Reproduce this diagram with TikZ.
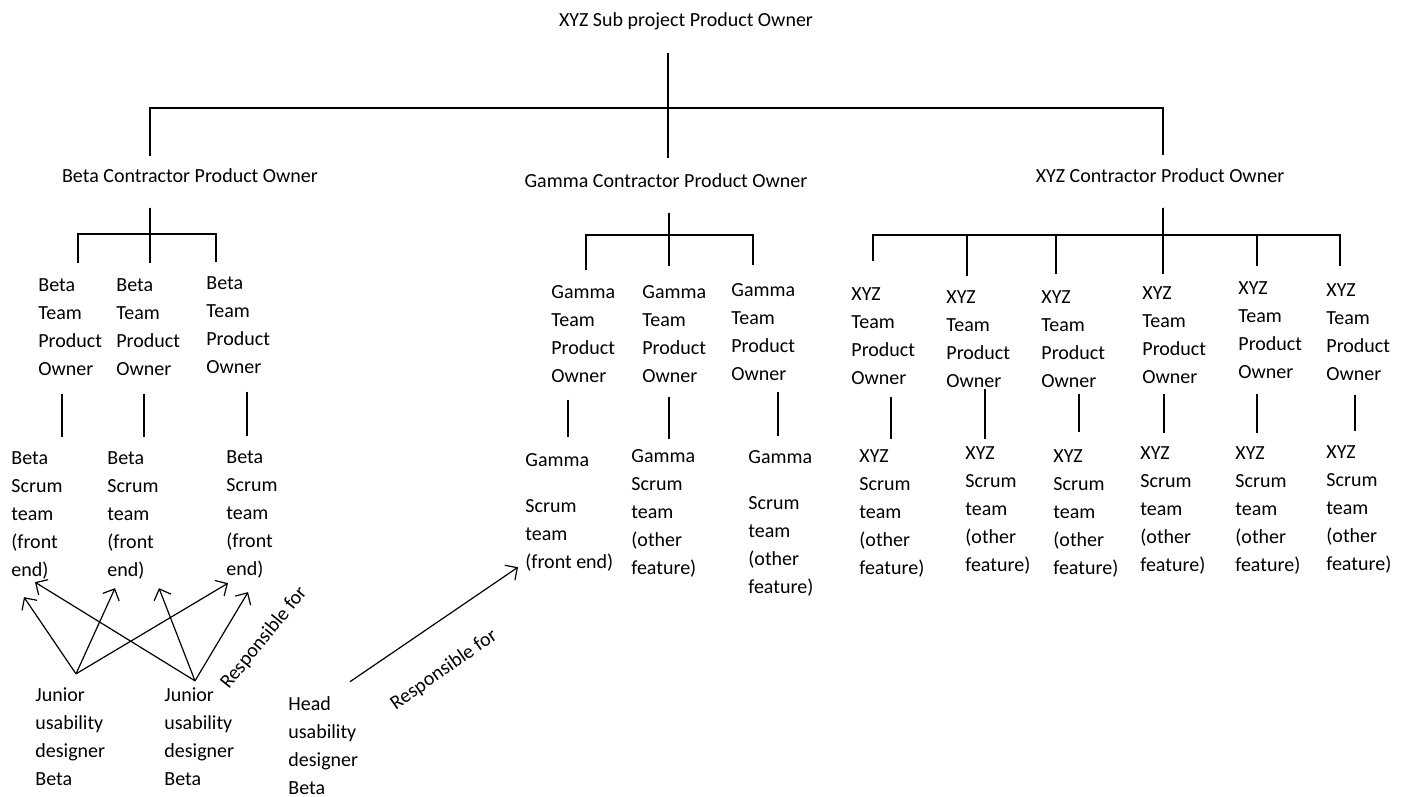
\documentclass[tikz,border=0pt]{standalone}
\usepackage{fontspec}
\setmainfont{Carlito}
\usetikzlibrary{arrows.meta,positioning}

\begin{document}
\begin{tikzpicture}[
  x=0.5pt, y=-0.5pt,
  every node/.style={font=\fontsize{10}{14}\selectfont, inner sep=0pt},
  role/.style={anchor=base},
  stack/.style={anchor=base west, align=left},
  link/.style={line width=0.6pt},
  resp/.style={link, -{Straight Barb[length=4.5pt,width=9pt]}}
]
\useasboundingbox (0,0) rectangle (1402,797);

% owners
\node[role] (sub) at (686,27) {XYZ Sub project Product Owner};
\node[role] (beta) at (190,182) {Beta Contractor Product Owner};
\node[role] (gamma) at (666,187) {Gamma Contractor Product Owner};
\node[role] (xyzc) at (1160,182) {XYZ Contractor Product Owner};

% beta teams (placed by the baseline of their last line)
\node[stack] (bpo1) at (38,375) {Beta\\Team\\Product\\Owner};
\node[stack] (bpo2) at (116,375) {Beta\\Team\\Product\\Owner};
\node[stack] (bpo3) at (206,373) {Beta\\Team\\Product\\Owner};
\node[stack] (bst1) at (11,576) {Beta\\Scrum\\team\\(front\\end)};
\node[stack] (bst2) at (107,576) {Beta\\Scrum\\team\\(front\\end)};
\node[stack] (bst3) at (226,575) {Beta\\Scrum\\team\\(front\\end)};

% gamma teams
\node[stack] (gpo1) at (551,382) {Gamma\\Team\\Product\\Owner};
\node[stack] (gpo2) at (642,382) {Gamma\\Team\\Product\\Owner};
\node[stack] (gpo3) at (731,380) {Gamma\\Team\\Product\\Owner};
\node[stack] (gst1) at (525,568) {Gamma\\[9pt]Scrum\\team\\(front end)};
\node[stack] (gst2) at (631,574) {Gamma\\Scrum\\team\\(other\\feature)};
\node[stack] (gst3) at (748,593) {Gamma\\[9pt]Scrum\\team\\(other\\feature)};

% xyz teams
\node[stack] (xpo1) at (851,384) {XYZ\\Team\\Product\\Owner};
\node[stack] (xpo2) at (946,387) {XYZ\\Team\\Product\\Owner};
\node[stack] (xpo3) at (1041,387) {XYZ\\Team\\Product\\Owner};
\node[stack] (xpo4) at (1142,383) {XYZ\\Team\\Product\\Owner};
\node[stack] (xpo5) at (1238,378) {XYZ\\Team\\Product\\Owner};
\node[stack] (xpo6) at (1326,380) {XYZ\\Team\\Product\\Owner};
\node[stack] (xst1) at (859,574) {XYZ\\Scrum\\team\\(other\\feature)};
\node[stack] (xst2) at (965,571) {XYZ\\Scrum\\team\\(other\\feature)};
\node[stack] (xst3) at (1053,574) {XYZ\\Scrum\\team\\(other\\feature)};
\node[stack] (xst4) at (1140,571) {XYZ\\Scrum\\team\\(other\\feature)};
\node[stack] (xst5) at (1235,571) {XYZ\\Scrum\\team\\(other\\feature)};
\node[stack] (xst6) at (1326,570) {XYZ\\Scrum\\team\\(other\\feature)};

% designers
\node[stack] (jun1) at (35,785) {Junior\\usability\\designer\\Beta};
\node[stack] (jun2) at (164,785) {Junior\\usability\\designer\\Beta};
\node[stack] (head) at (288,794) {Head\\usability\\designer\\Beta};
\node[rotate=51] (resp1) at (264,638) {Responsible for};
\node[rotate=35] (resp2) at (444,670) {Responsible for};

% top level
\coordinate (hub) at (668,108);
\draw[link, shorten <=11pt, shorten >=5.8pt] (sub.south -| hub) -- (hub) -| (beta.north -| 150,0);
\draw[link, shorten <=11pt, shorten >=7.3pt] (sub.south -| hub) -- (gamma.north -| hub);
\draw[link, shorten <=11pt, shorten >=6.3pt] (sub.south -| hub) -- (hub) -| (xyzc.north -| 1163,0);

% beta branch
\coordinate (bhub) at (150,234);
\draw[link, shorten <=12.5pt, shorten >=7.5pt] (beta.south -| bhub) -- (bhub) -| (bpo1.north -| 78,0);
\draw[link, shorten <=12.5pt, shorten >=7.5pt] (beta.south -| bhub) -- (bpo2.north -| bhub);
\draw[link, shorten <=12.5pt, shorten >=7pt] (beta.south -| bhub) -- (bhub) -| (bpo3.north -| 216,0);
\draw[link, shorten <=9pt, shorten >=7pt] (bpo1.south -| 62,0) -- (bst1.north -| 62,0);
\draw[link, shorten <=9pt, shorten >=7pt] (bpo2.south -| 144,0) -- (bst2.north -| 144,0);
\draw[link, shorten <=9pt, shorten >=7pt] (bpo3.south -| 247,0) -- (bst3.north -| 247,0);

% gamma branch
\coordinate (ghub) at (669,235);
\draw[link, shorten <=12.5pt, shorten >=7.5pt] (gamma.south -| ghub) -- (ghub) -| (gpo1.north -| 586,0);
\draw[link, shorten <=12.5pt, shorten >=9.5pt] (gamma.south -| ghub) -- (gpo2.north -| ghub);
\draw[link, shorten <=12.5pt, shorten >=9pt] (gamma.south -| ghub) -- (ghub) -| (gpo3.north -| 753,0);
\draw[link, shorten <=8.5pt, shorten >=8pt] (gpo1.south -| 568,0) -- (gst1.north -| 568,0);
\draw[link, shorten <=7pt, shorten >=5pt] (gpo2.south -| 669,0) -- (gst2.north -| 669,0);
\draw[link, shorten <=5.5pt, shorten >=7pt] (gpo3.south -| 778,0) -- (gst3.north -| 778,0);

% xyz branch
\coordinate (xhub) at (1163,235);
\draw[link, shorten <=12.5pt, shorten >=13pt] (xyzc.south -| xhub) -- (xhub) -| (xpo1.north -| 873,0);
\draw[link, shorten <=12.5pt, shorten >=7pt] (xyzc.south -| xhub) -- (xhub) -| (xpo2.north -| 967,0);
\draw[link, shorten <=12.5pt, shorten >=8pt] (xyzc.south -| xhub) -- (xhub) -| (xpo3.north -| 1056,0);
\draw[link, shorten <=12.5pt, shorten >=6pt] (xyzc.south -| xhub) -- (xpo4.north -| xhub);
\draw[link, shorten <=12.5pt, shorten >=7.5pt] (xyzc.south -| xhub) -- (xhub) -| (xpo5.north -| 1257,0);
\draw[link, shorten <=12.5pt, shorten >=8.5pt] (xyzc.south -| xhub) -- (xhub) -| (xpo6.north -| 1340,0);
\draw[link, shorten <=6pt, shorten >=5pt] (xpo1.south -| 891,0) -- (xst1.north -| 891,0);
\draw[link, shorten <=0.5pt, shorten >=3.5pt] (xpo2.south -| 985,0) -- (xst2.north -| 985,0);
\draw[link, shorten <=3pt, shorten >=8.5pt] (xpo3.south -| 1079,0) -- (xst3.north -| 1079,0);
\draw[link, shorten <=5pt, shorten >=6.5pt] (xpo4.south -| 1164,0) -- (xst4.north -| 1164,0);
\draw[link, shorten <=7.5pt, shorten >=6.5pt] (xpo5.south -| 1257,0) -- (xst5.north -| 1257,0);
\draw[link, shorten <=7pt, shorten >=7pt] (xpo6.south -| 1355,0) -- (xst6.north -| 1355,0);

% responsibilities
\coordinate (j1) at ([shift={(41,-13)}]jun1.north west);
\coordinate (j2) at ([shift={(31,-6)}]jun2.north west);
\coordinate (hd) at ([shift={(62,-14)}]head.north west);
\draw[resp] (j1) -- ([shift={(13,18)}]bst1.south west);
\draw[resp] (j1) -- ([shift={(8,9)}]bst2.south west);
\draw[resp] (j1) -- ([shift={(2,5)}]bst3.south west);
\draw[resp] (j2) -- ([shift={(24,3)}]bst1.south west);
\draw[resp] (j2) -- ([shift={(52,9)}]bst2.south west);
\draw[resp] (j2) -- ([shift={(22,14)}]bst3.south west);
\draw[resp] (hd) -- ([shift={(-7,-4)}]gst1.south west);
\end{tikzpicture}
\end{document}
